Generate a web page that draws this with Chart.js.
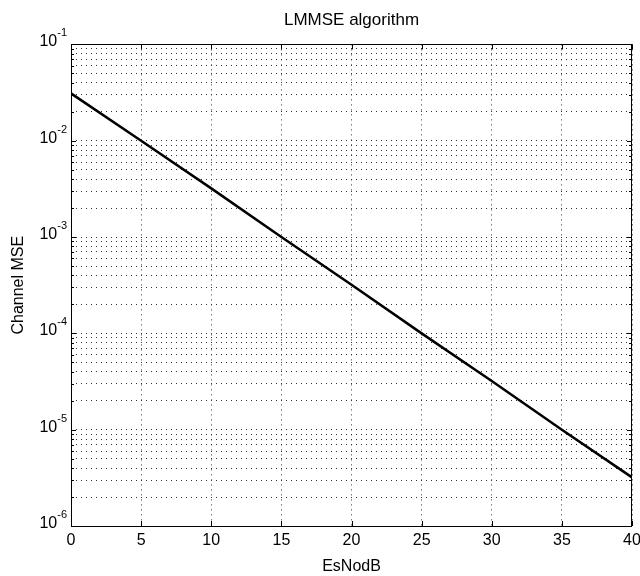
<!DOCTYPE html>
<html lang="en">
<head>
    <meta charset="UTF-8">
    <title>LMMSE algorithm</title>
    <script src="https://cdn.jsdelivr.net/npm/chart.js"></script>
    <style>
        body { margin: 0; background: #fff; }
        #wrap { position: relative; width: 640px; height: 576px; }
    </style>
</head>
<body>
    <div id="wrap">
        <canvas id="mseChart"></canvas>
    </div>

    <script>
        // values
        const esNodB = [0, 5, 10, 15, 20, 25, 30, 35, 40];
        const channelMSE = [3.1e-2, 1.0e-2, 3.2e-3, 1.0e-3, 3.2e-4, 1.0e-4, 3.2e-5, 1.0e-5, 3.2e-6];

        // y axis decades: mantissa "10" with exponent labels
        const yDecades = [1e-6, 1e-5, 1e-4, 1e-3, 1e-2, 1e-1];
        const yExponents = ['-6', '-5', '-4', '-3', '-2', '-1'];
        const minorSteps = [2, 3, 4, 5, 6, 7, 8, 9];

        const font = "'Liberation Sans', Arial, sans-serif";

        function yTickValues() {
            const vals = [];
            yDecades.forEach((d, i) => {
                vals.push(d);
                if (i < yDecades.length - 1) {
                    minorSteps.forEach(m => vals.push(+(m * d).toPrecision(3)));
                }
            });
            return vals;
        }

        // box, inner tick marks and 10^n labels, matlab style
        const frame = {
            id: 'frame',
            afterDatasetsDraw(chart) {
                const { ctx, chartArea: a, scales: { x, y } } = chart;
                ctx.save();
                ctx.strokeStyle = '#000';
                ctx.lineWidth = 1;
                ctx.strokeRect(Math.round(a.left) + 0.5, Math.round(a.top) + 0.5,
                    Math.round(a.right - a.left) - 1, Math.round(a.bottom - a.top));
                ctx.beginPath();
                x.ticks.forEach(t => {
                    const px = Math.round(x.getPixelForValue(t.value)) + 0.5;
                    ctx.moveTo(px, a.bottom); ctx.lineTo(px, a.bottom - 5);
                    ctx.moveTo(px, a.top); ctx.lineTo(px, a.top + 5);
                });
                y.ticks.forEach(t => {
                    const py = Math.round(y.getPixelForValue(t.value)) + 0.5;
                    const len = yDecades.includes(t.value) ? 5 : 3;
                    ctx.moveTo(a.left, py); ctx.lineTo(a.left + len, py);
                    ctx.moveTo(a.right, py); ctx.lineTo(a.right - len, py);
                });
                ctx.stroke();

                ctx.fillStyle = '#000';
                ctx.textBaseline = 'alphabetic';
                yDecades.forEach((d, i) => {
                    const py = y.getPixelForValue(d);
                    const right = a.left - 4;
                    ctx.font = '11px ' + font;
                    const ew = ctx.measureText(yExponents[i]).width;
                    ctx.textAlign = 'left';
                    ctx.fillText(yExponents[i], right - ew, py - 8);
                    ctx.font = '16px ' + font;
                    ctx.textAlign = 'right';
                    ctx.fillText('10', right - ew, py + 2);
                });
                ctx.restore();
            }
        };

        const ctx = document.getElementById('mseChart').getContext('2d');
        new Chart(ctx, {
            type: 'line',
            data: {
                datasets: [{
                    data: esNodB.map((v, i) => ({ x: v, y: channelMSE[i] })),
                    borderColor: '#000',
                    borderWidth: 2.5,
                    pointRadius: 0,
                    fill: false,
                    tension: 0
                }]
            },
            options: {
                responsive: true,
                maintainAspectRatio: false,
                animation: false,
                layout: { padding: { left: 0, right: 8, top: 0, bottom: 0 } },
                plugins: {
                    legend: { display: false },
                    tooltip: { enabled: false },
                    title: {
                        display: true,
                        text: 'LMMSE algorithm',
                        fullSize: false,
                        color: '#000',
                        font: { family: font, size: 17, weight: 'normal' },
                        padding: { top: 10, bottom: 14 }
                    }
                },
                scales: {
                    x: {
                        type: 'linear',
                        min: 0,
                        max: 40,
                        ticks: {
                            stepSize: 5,
                            color: '#000',
                            padding: 5,
                            font: { family: font, size: 16 }
                        },
                        grid: { color: '#333', lineWidth: 1, drawTicks: false },
                        border: { display: false, dash: [1, 4] },
                        title: {
                            display: true,
                            text: 'EsNodB',
                            color: '#000',
                            font: { family: font, size: 16 },
                            padding: { top: 0, bottom: 0 }
                        },
                        afterFit(scale) {
                            scale.height = 50;
                            scale.paddingLeft = 0;
                            scale.paddingRight = 0;
                        }
                    },
                    y: {
                        type: 'logarithmic',
                        min: 1e-6,
                        max: 1e-1,
                        afterBuildTicks(scale) {
                            scale.ticks = yTickValues().map(v => ({ value: v }));
                        },
                        ticks: { display: false },
                        grid: { color: '#333', lineWidth: 1, drawTicks: false },
                        border: { display: false, dash: [1, 4] },
                        title: {
                            display: true,
                            text: 'Channel MSE',
                            color: '#000',
                            font: { family: font, size: 16 },
                            padding: { top: 9, bottom: 0 }
                        },
                        afterFit(scale) {
                            scale.width = 71;
                            scale.paddingTop = 0;
                            scale.paddingBottom = 0;
                        }
                    }
                }
            },
            plugins: [frame]
        });
    </script>
</body>
</html>
